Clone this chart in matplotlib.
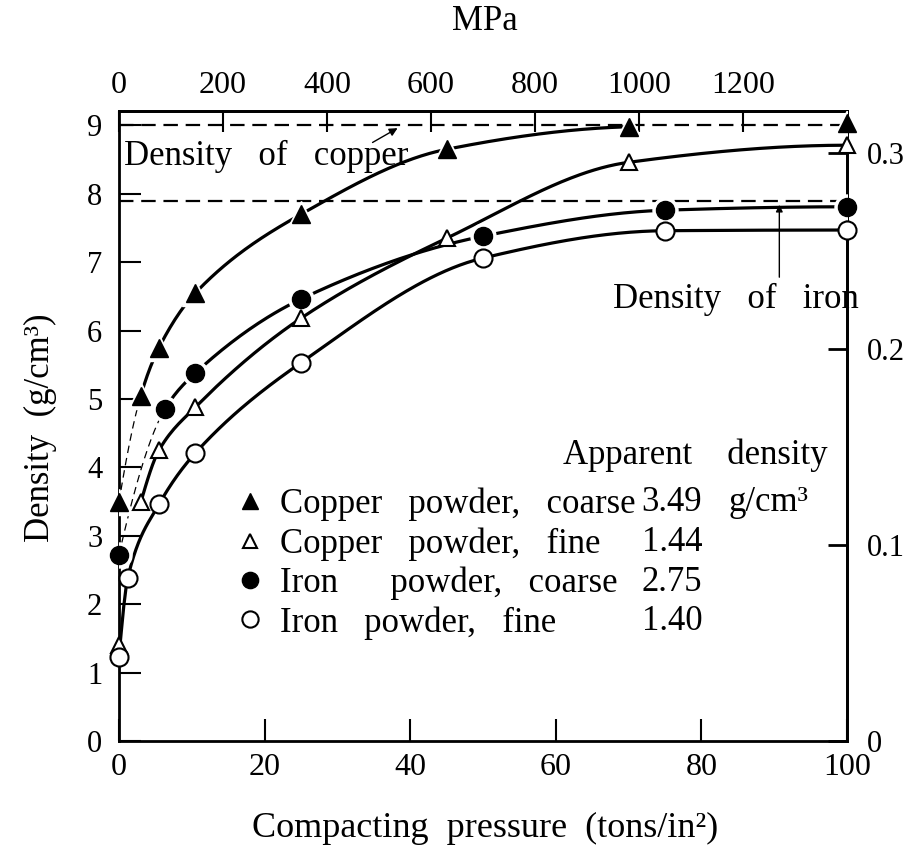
import numpy as np
import matplotlib
matplotlib.use('Agg')
import matplotlib.pyplot as plt

plt.rcParams['font.family'] = ['Liberation Serif', 'DejaVu Serif']

##
## Data (pressure in tons/in^2, density in g/cm^3)
##
cu_coarse_p = [0, 3, 5.5, 10.5, 25, 45, 70, 100]
cu_coarse_d = [3.49, 5.05, 5.75, 6.55, 7.70, 8.65, 8.98, 9.03]

cu_fine_p = [0, 3, 5.5, 10.5, 25, 45, 70, 100]
cu_fine_d = [1.40, 3.49, 4.25, 4.88, 6.18, 7.35, 8.46, 8.71]

fe_coarse_p = [0, 6.3, 10.5, 25, 50, 75, 100]
fe_coarse_d = [2.72, 4.85, 5.38, 6.46, 7.38, 7.76, 7.81]

fe_fine_p = [0, 1.2, 5.5, 10.5, 25, 50, 75, 100]
fe_fine_d = [1.23, 2.38, 3.46, 4.21, 5.53, 7.06, 7.46, 7.47]

labels = ['Copper   powder,   coarse', 'Copper   powder,   fine',
          'Iron      powder,   coarse', 'Iron   powder,   fine']
apparent = ['3.49', '1.44', '2.75', '1.40']
row_y = [3.49, 2.90, 2.31, 1.74]

rho_copper = 9.0
rho_iron = 7.9
mpa_per_tsi = 14.0      # as drawn on the top scale
gcc_per_lbin3 = 28.66   # as drawn on the right scale


def pchip(x, y, xs):
    # shape preserving cubic through the points, just for drawing
    x = np.asarray(x, float)
    y = np.asarray(y, float)
    h = np.diff(x)
    d = np.diff(y) / h
    m = np.zeros_like(y)
    for k in range(1, len(x) - 1):
        if d[k-1] * d[k] > 0:
            w1 = 2*h[k] + h[k-1]
            w2 = h[k] + 2*h[k-1]
            m[k] = (w1 + w2) / (w1/d[k-1] + w2/d[k])
    if len(x) > 2:
        m[0] = ((2*h[0] + h[1])*d[0] - h[0]*d[1]) / (h[0] + h[1])
        if m[0]*d[0] <= 0:
            m[0] = 0
        m[-1] = ((2*h[-1] + h[-2])*d[-1] - h[-1]*d[-2]) / (h[-1] + h[-2])
        if m[-1]*d[-1] <= 0:
            m[-1] = 0
    else:
        m[:] = d[0]
    i = np.clip(np.searchsorted(x, xs) - 1, 0, len(x) - 2)
    t = (xs - x[i]) / h[i]
    h00 = 2*t**3 - 3*t**2 + 1
    h10 = t**3 - 2*t**2 + t
    h01 = -2*t**3 + 3*t**2
    h11 = t**3 - t**2
    return h00*y[i] + h10*h[i]*m[i] + h01*y[i+1] + h11*h[i]*m[i+1]


def curve(ax, p, d, x0, x1, **kw):
    xs = np.linspace(x0, x1, 300)
    ax.plot(xs, pchip(p, d, xs), color='k', **kw)


fig = plt.figure(figsize=(9.22, 8.58), dpi=100)
ax = fig.add_axes([0.129, 0.1364, 0.7897, 0.7342])

solid = dict(lw=2.3, zorder=2, solid_capstyle='butt')
thin = dict(lw=0.9, ls=(0, (6, 4)), zorder=2)

# curves
curve(ax, cu_coarse_p, cu_coarse_d, cu_coarse_p[0], cu_coarse_p[1], **thin)
curve(ax, cu_coarse_p, cu_coarse_d, cu_coarse_p[1], cu_coarse_p[6], **solid)
curve(ax, cu_fine_p[1:], cu_fine_d[1:], cu_fine_p[1], cu_fine_p[-1], **solid)
curve(ax, fe_coarse_p, fe_coarse_d, fe_coarse_p[0], fe_coarse_p[1], **thin)
curve(ax, fe_coarse_p, fe_coarse_d, fe_coarse_p[1], fe_coarse_p[-1], **solid)
curve(ax, fe_fine_p, fe_fine_d, fe_fine_p[0], fe_fine_p[-1], **solid)

# reference densities
dash = dict(color='k', lw=1.6, ls=(0, (6.5, 3.5)), zorder=1)
ax.axhline(rho_copper, **dash)
ax.axhline(rho_iron, **dash)

# white halos so the lines break at the filled markers
ax.plot(cu_coarse_p, cu_coarse_d, ls='none', marker='^', ms=19, mfc='w', mec='w', zorder=3)
ax.plot(fe_coarse_p, fe_coarse_d, ls='none', marker='o', ms=18, mfc='w', mec='w', zorder=3)

h1, = ax.plot(cu_coarse_p, cu_coarse_d, ls='none', marker='^', ms=13, mfc='k', mec='k',
              zorder=4, clip_on=False)
h2, = ax.plot(cu_fine_p, cu_fine_d, ls='none', marker='^', ms=11, mfc='w', mec='k', mew=1.5,
              zorder=4, clip_on=False)
h3, = ax.plot(fe_coarse_p, fe_coarse_d, ls='none', marker='o', ms=13, mfc='k', mec='k',
              zorder=4, clip_on=False)
h4, = ax.plot(fe_fine_p, fe_fine_d, ls='none', marker='o', ms=13, mfc='w', mec='k', mew=1.5,
              zorder=4, clip_on=False)

ax.set_xlim(0, 100)
ax.set_ylim(0, 9.21)
ax.set_xticks([0, 20, 40, 60, 80, 100])
ax.set_yticks(range(0, 10))
ax.tick_params(direction='in', length=16, width=1.5, labelsize=23, pad=9)
ax.tick_params(axis='y', labelsize=22, pad=12)
for s in ax.spines.values():
    s.set_linewidth(2)

# top scale in MPa
top = ax.secondary_xaxis('top', functions=(lambda p: p*mpa_per_tsi, lambda m: m/mpa_per_tsi))
top.set_xticks(range(0, 1400, 200))
top.tick_params(direction='in', length=15, width=1.5, labelsize=23, pad=8)
top.spines['top'].set_linewidth(2)

# right scale (lb/in^3)
right = ax.secondary_yaxis('right', functions=(lambda d: d/gcc_per_lbin3, lambda v: v*gcc_per_lbin3))
right.set_yticks([0, 0.1, 0.2, 0.3])
right.set_yticklabels(['0', '0.1', '0.2', '0.3'])
right.tick_params(direction='in', length=14, width=2, labelsize=22, pad=14)
right.spines['right'].set_linewidth(2)

# annotations
ax.text(0.7, 8.54, 'Density   of   copper', fontsize=25, ha='left', va='center')
ax.annotate('', xy=(38.6, 8.98), xytext=(34.5, 8.73),
            arrowprops=dict(arrowstyle='-|>', lw=1, color='k', mutation_scale=12))
ax.text(67.9, 6.45, 'Density   of   iron', fontsize=25, ha='left', va='center')
ax.annotate('', xy=(90.7, 7.88), xytext=(90.7, 6.74),
            arrowprops=dict(arrowstyle='-|>', lw=1, color='k', mutation_scale=10))

# legend with apparent densities
leg = ax.legend([h1, h2, h3, h4], labels, loc='upper left', bbox_to_anchor=(16.1, 3.70),
                bbox_transform=ax.transData, frameon=False, fontsize=25, handlelength=0.8,
                handletextpad=0.45, labelspacing=0.17, borderpad=0, borderaxespad=0,
                markerscale=0.9)
ax.text(61.0, 4.18, 'Apparent    density', fontsize=25, ha='left', va='center')
ax.text(83.7, 3.49, 'g/cm³', fontsize=25, ha='left', va='center')
for v, y in zip(apparent, row_y):
    ax.text(80.1, y, v, fontsize=25, ha='right', va='center')

fig.text(485/922, 1 - 22/858, 'MPa', fontsize=25, ha='center', va='center')
fig.text(485/922, 1 - 828/858, 'Compacting  pressure  (tons/in²)', fontsize=26, ha='center', va='center')
fig.text(40/922, 1 - 428/858, 'Density  (g/cm³)', fontsize=25, ha='center', va='center', rotation=90)

fig.savefig('out.png', dpi=100)
